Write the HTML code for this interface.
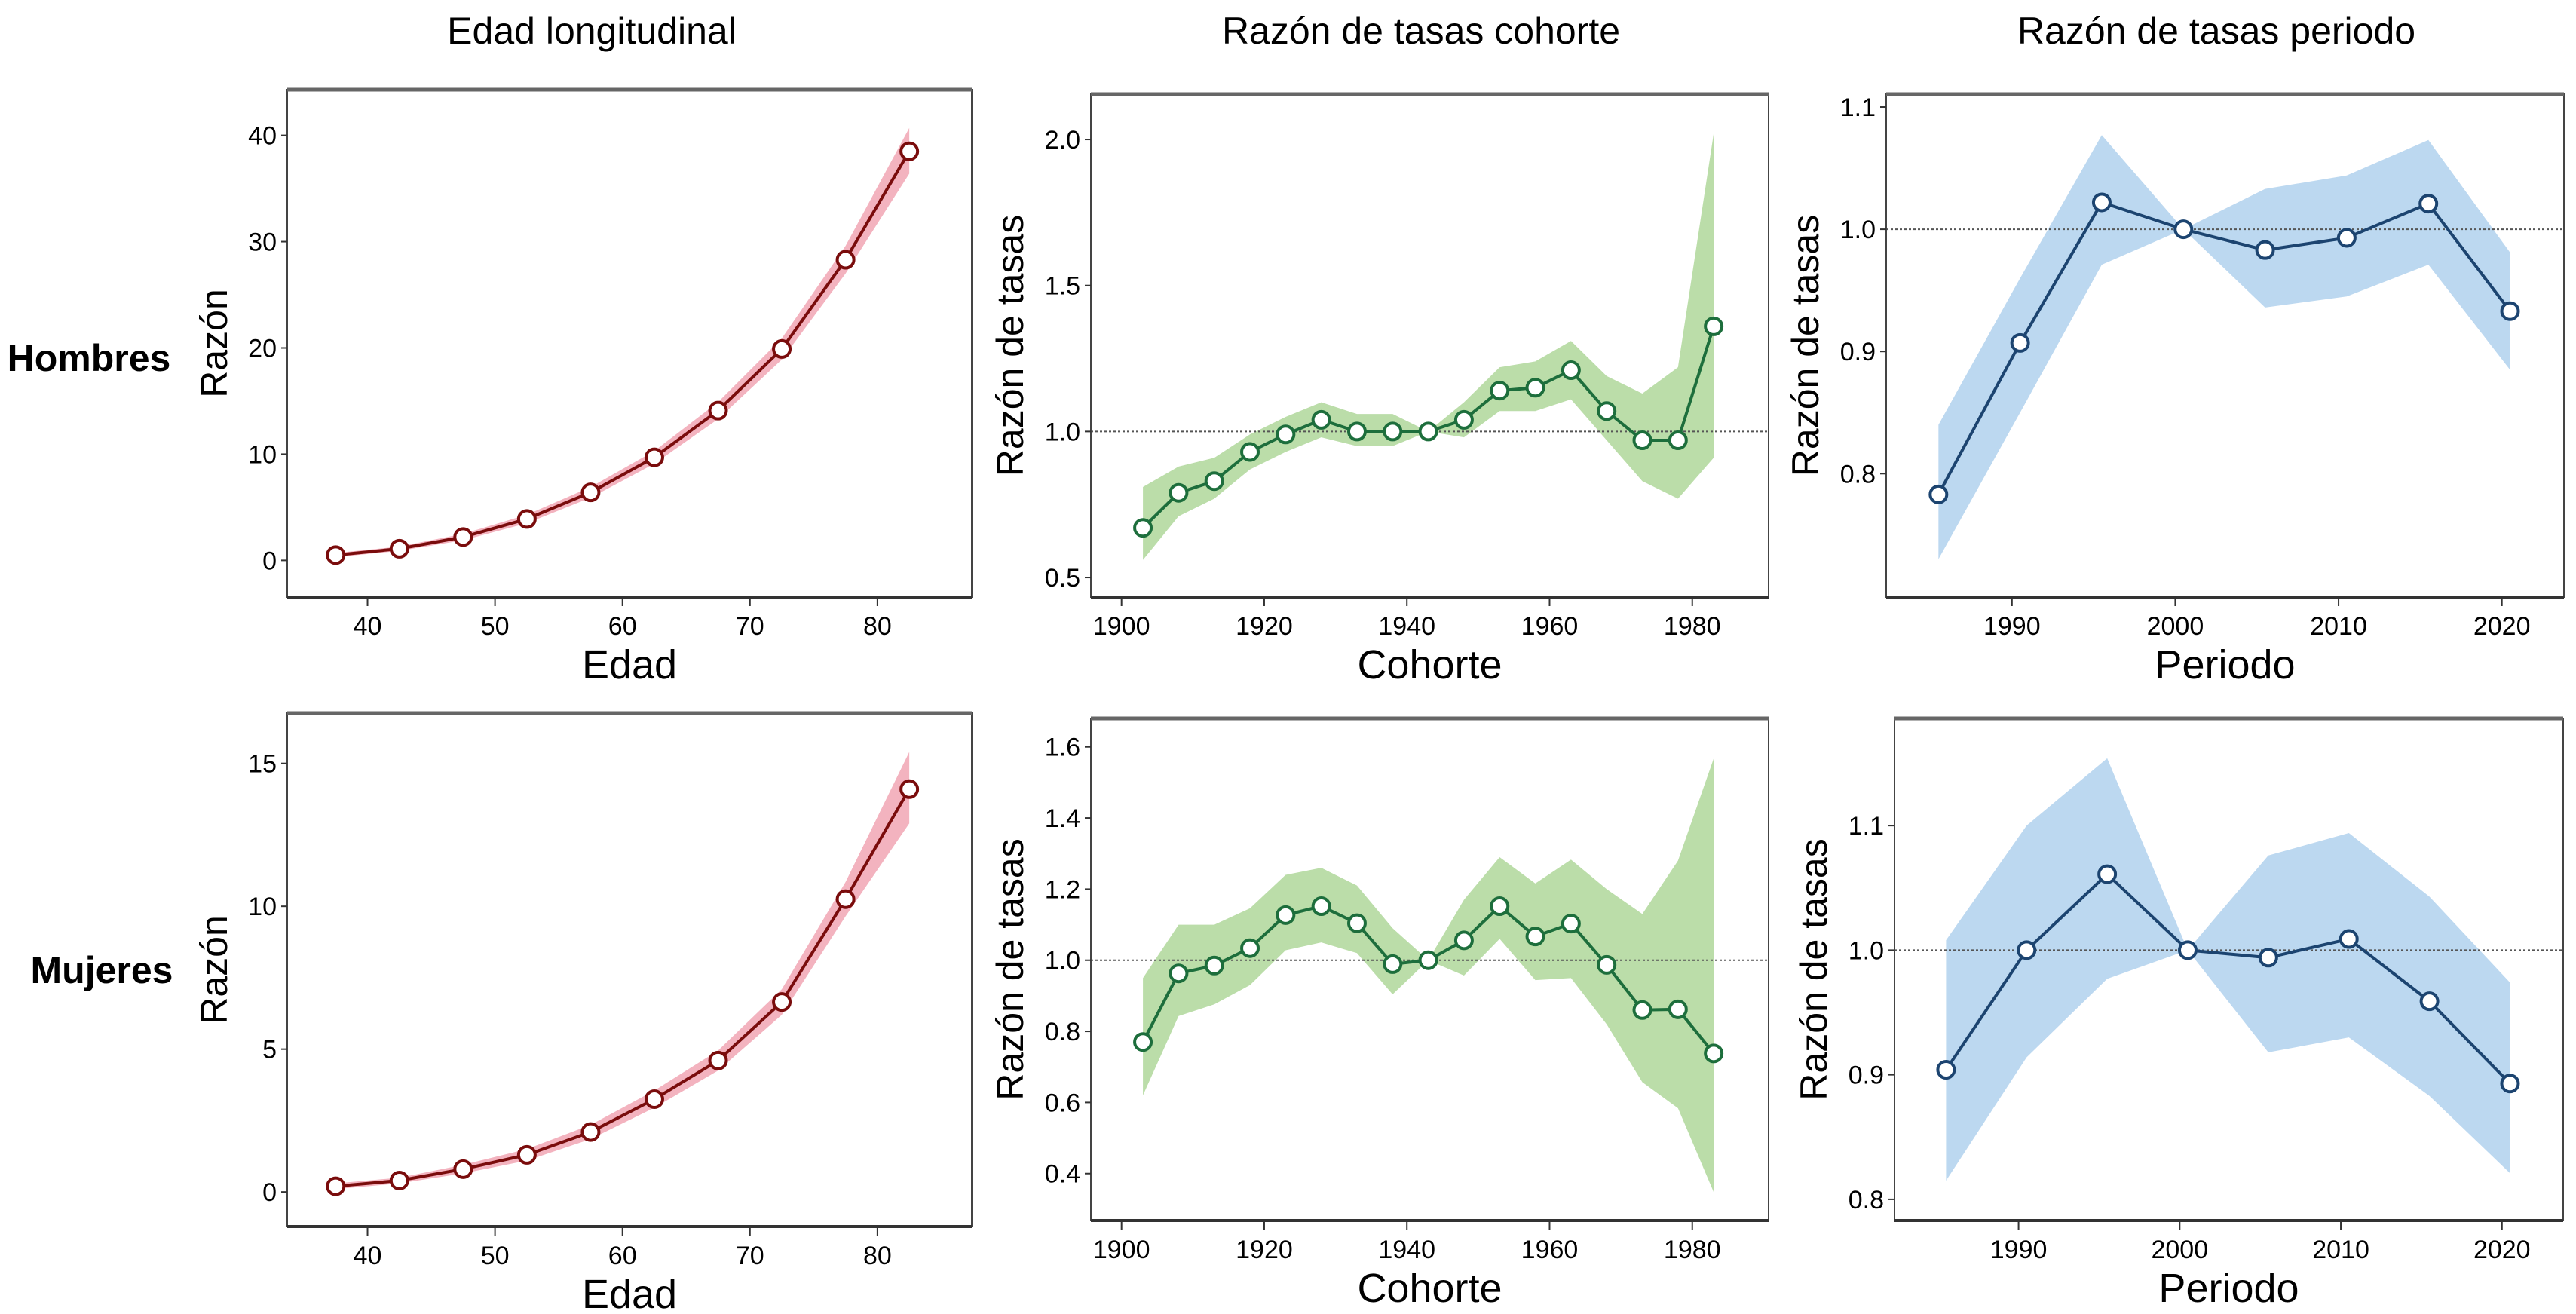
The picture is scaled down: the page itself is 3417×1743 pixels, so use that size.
<!DOCTYPE html>
<html><head><meta charset="utf-8"><style>
html,body{margin:0;padding:0;background:#fff}
svg{display:block;font-family:"Liberation Sans",sans-serif}
</style></head><body>
<svg id="fig" width="3417" height="1743" viewBox="0 0 3417 1743" xmlns="http://www.w3.org/2000/svg">
<text x="785" y="58" font-size="50" text-anchor="middle">Edad longitudinal</text>
<text x="1885" y="58" font-size="50" text-anchor="middle">Razón de tasas cohorte</text>
<text x="2940" y="58" font-size="50" text-anchor="middle">Razón de tasas periodo</text>
<text x="118" y="492" font-size="50" font-weight="bold" text-anchor="middle">Hombres</text>
<text x="135" y="1304" font-size="50" font-weight="bold" text-anchor="middle">Mujeres</text>
</svg>
<script>
const ageX = [37.5,42.5,47.5,52.5,57.5,62.5,67.5,72.5,77.5,82.5];
const ageMenVals = [0.5,1.1,2.2,3.9,6.4,9.7,14.1,19.9,28.3,38.5];
const ageMenUp = [0.7,1.3,2.5,4.3,6.9,10.3,14.9,20.9,29.6,40.7];
const ageMenLo = [0.3,0.9,1.9,3.5,5.9,9.1,13.3,18.9,27.0,36.4];
const ageWomVals = [0.2,0.4,0.8,1.3,2.1,3.25,4.6,6.65,10.25,14.1];
const ageWomUp = [0.3,0.5,0.95,1.5,2.35,3.55,4.95,7.1,10.85,15.4];
const ageWomLo = [0.1,0.3,0.65,1.1,1.85,2.95,4.25,6.2,9.65,12.9];
const cohX = [1903,1908,1913,1918,1923,1928,1933,1938,1943,1948,1953,1958,1963,1968,1973,1978,1983];
const cohMenVals = [0.67,0.79,0.83,0.93,0.99,1.04,1.00,1.00,1.00,1.04,1.14,1.15,1.21,1.07,0.97,0.97,1.36];
const cohMenUp = [0.81,0.88,0.91,0.99,1.05,1.10,1.06,1.06,1.00,1.10,1.22,1.24,1.31,1.19,1.13,1.22,2.02];
const cohMenLo = [0.56,0.71,0.77,0.87,0.93,0.98,0.95,0.95,1.00,0.98,1.07,1.07,1.11,0.97,0.83,0.77,0.91];
const cohWomVals = [0.77,0.963,0.985,1.034,1.127,1.152,1.104,0.989,1.0,1.056,1.152,1.067,1.103,0.987,0.86,0.862,0.738];
const cohWomUp = [0.95,1.10,1.10,1.146,1.24,1.26,1.21,1.09,1.0,1.17,1.29,1.216,1.283,1.2,1.13,1.28,1.567];
const cohWomLo = [0.62,0.843,0.876,0.93,1.028,1.05,1.02,0.904,1.0,0.957,1.06,0.944,0.95,0.82,0.657,0.584,0.348];
const perX = [1985.5,1990.5,1995.5,2000.5,2005.5,2010.5,2015.5,2020.5];
const perMenVals = [0.783,0.907,1.022,1.0,0.983,0.993,1.021,0.933];
const perMenUp = [0.84,0.96,1.077,1.0,1.033,1.044,1.073,0.981];
const perMenLo = [0.73,0.85,0.971,1.0,0.936,0.945,0.971,0.885];
const perWomVals = [0.904,1.0,1.061,1.0,0.994,1.009,0.959,0.893];
const perWomUp = [1.008,1.10,1.154,1.0,1.076,1.094,1.043,0.974];
const perWomLo = [0.815,0.914,0.977,1.0,0.918,0.93,0.883,0.821];
const ageTicksX = [40,50,60,70,80];
const cohTicksX = [1900,1920,1940,1960,1980];
const perTicksX = [1990,2000,2010,2020];
const ageMenTicksY = [0,10,20,30,40];
const ageWomTicksY = [0,5,10,15];
const cohMenTicksY = [0.5,1.0,1.5,2.0];
const cohWomTicksY = [0.4,0.6,0.8,1.0,1.2,1.4,1.6];
const perMenTicksY = [0.8,0.9,1.0,1.1];
const perWomTicksY = [0.8,0.9,1.0,1.1];

const svg = document.getElementById('fig');
const NS = 'http://www.w3.org/2000/svg';
function mk(tag, attrs, parent){const e=document.createElementNS(NS,tag);for(const k in attrs)e.setAttribute(k,attrs[k]);(parent||svg).appendChild(e);return e;}

function panel(o){
  const g = mk('g',{});
  
  
  const sx = v => o.L + (v - o.x0) / (o.x1 - o.x0) * (o.R - o.L);
  const sy = v => o.B - (v - o.y0) / (o.y1 - o.y0) * (o.B - o.T);
  let d = '';
  o.xs.forEach((x,i)=>{ d += (i?'L':'M') + sx(x) + ' ' + sy(o.up[i]) + ' '; });
  for(let i=o.xs.length-1;i>=0;i--) d += 'L' + sx(o.xs[i]) + ' ' + sy(o.lo[i]) + ' ';
  const band = mk('path',{d:d+'Z',fill:o.band,stroke:'none'},g);
  
  
  if(o.ref!==undefined){
    const r = mk('line',{x1:o.L,x2:o.R,y1:sy(o.ref),y2:sy(o.ref),stroke:'#555','stroke-width':2,'stroke-dasharray':'3 3'},g);
    
    
  }
  const pts = o.xs.map((x,i)=>sx(x)+','+sy(o.vals[i])).join(' ');
  const ln = mk('polyline',{points:pts,fill:'none',stroke:o.line,'stroke-width':4},g);
  
  
  o.xs.forEach((x,i)=>{
    const c = mk('circle',{cx:sx(x),cy:sy(o.vals[i]),r:11,fill:'#fff',stroke:o.line,'stroke-width':4},g);
    
    
  });
  const fr = mk('rect',{x:o.L,y:o.T,width:o.R-o.L,height:o.B-o.T,fill:'none',stroke:'#444','stroke-width':2},g);
  
  
  mk('line',{x1:o.L,x2:o.R,y1:o.T,y2:o.T,stroke:'#666','stroke-width':5},g);
  mk('line',{x1:o.L,x2:o.R,y1:o.B,y2:o.B,stroke:'#333','stroke-width':4},g);
  o.xt.forEach(t=>{
    mk('line',{x1:sx(t),x2:sx(t),y1:o.B,y2:o.B+12,stroke:'#333','stroke-width':2},g);
    const tx = mk('text',{x:sx(t),y:o.B+50,'font-size':34,'text-anchor':'middle'},g);
    tx.textContent = t;
    
    
  });
  o.yt.forEach(t=>{
    mk('line',{x1:o.L-8,x2:o.L,y1:sy(t),y2:sy(t),stroke:'#333','stroke-width':2},g);
    const tx = mk('text',{x:o.L-14,y:sy(t)+12,'font-size':34,'text-anchor':'end'},g);
    tx.textContent = o.dec ? t.toFixed(1) : t;
    
    
  });
  const xl = mk('text',{x:(o.L+o.R)/2,y:o.B+108,'font-size':54,'text-anchor':'middle'},g);
  xl.textContent = o.xlab;
  
  
  const yx = o.L - o.ylOff, yy = (o.T+o.B)/2;
  const yl = mk('text',{x:yx,y:yy,'font-size':50,'text-anchor':'middle',transform:'rotate(-90 '+yx+' '+yy+')'},g);
  yl.textContent = o.ylab;
  
  
}

const red={band:'#f3b3bf',line:'#7a0c0c'}, green={band:'#bbdda9',line:'#1d6e3c'}, blue={band:'#bcd8f0',line:'#1c4470'};
panel(Object.assign({name:'panel-edad-hombres',L:381,R:1289,T:119,B:792,x0:33.7,x1:87.4,y0:-3.45,y1:44.3,xs:ageX,vals:ageMenVals,up:ageMenUp,lo:ageMenLo,xt:ageTicksX,yt:ageMenTicksY,xlab:'Edad',ylab:'Razón',ylOff:80},red));
panel(Object.assign({name:'panel-edad-mujeres',L:381,R:1289,T:946,B:1627,x0:33.7,x1:87.4,y0:-1.21,y1:16.76,xs:ageX,vals:ageWomVals,up:ageWomUp,lo:ageWomLo,xt:ageTicksX,yt:ageWomTicksY,xlab:'Edad',ylab:'Razón',ylOff:80},red));
panel(Object.assign({name:'panel-cohorte-hombres',L:1447,R:2346,T:125,B:792,x0:1895.7,x1:1990.7,y0:0.433,y1:2.155,xs:cohX,vals:cohMenVals,up:cohMenUp,lo:cohMenLo,xt:cohTicksX,yt:cohMenTicksY,ref:1.0,dec:true,xlab:'Cohorte',ylab:'Razón de tasas',ylOff:90},green));
panel(Object.assign({name:'panel-cohorte-mujeres',L:1447,R:2346,T:953,B:1619,x0:1895.7,x1:1990.7,y0:0.268,y1:1.68,xs:cohX,vals:cohWomVals,up:cohWomUp,lo:cohWomLo,xt:cohTicksX,yt:cohWomTicksY,ref:1.0,dec:true,xlab:'Cohorte',ylab:'Razón de tasas',ylOff:90},green));
panel(Object.assign({name:'panel-periodo-hombres',L:2502,R:3401,T:125,B:792,x0:1982.3,x1:2023.8,y0:0.699,y1:1.1105,xs:perX,vals:perMenVals,up:perMenUp,lo:perMenLo,xt:perTicksX,yt:perMenTicksY,ref:1.0,dec:true,xlab:'Periodo',ylab:'Razón de tasas',ylOff:90},blue));
panel(Object.assign({name:'panel-periodo-mujeres',L:2513,R:3400,T:953,B:1619,x0:1982.3,x1:2023.8,y0:0.783,y1:1.186,xs:perX,vals:perWomVals,up:perWomUp,lo:perWomLo,xt:perTicksX,yt:perWomTicksY,ref:1.0,dec:true,xlab:'Periodo',ylab:'Razón de tasas',ylOff:90},blue));
</script>
</body></html>
